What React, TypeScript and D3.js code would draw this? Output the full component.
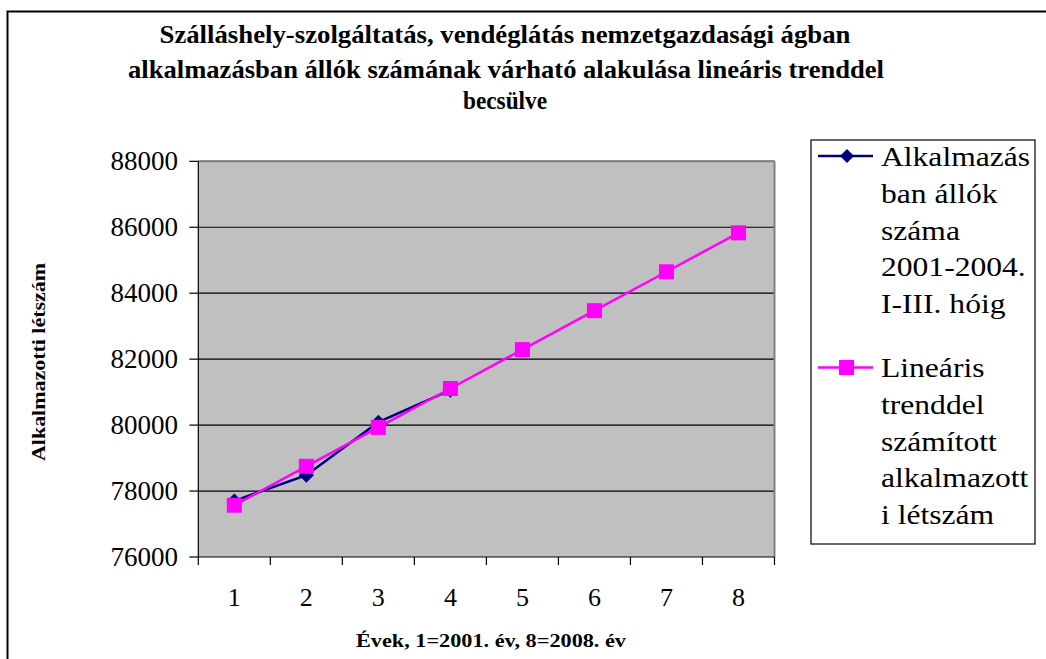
import React from "react";
import * as d3 from "d3";

const years = [1, 2, 3, 4, 5, 6, 7, 8];
const actualYears = [1, 2, 3, 4];
const actualValues = [77700, 78480, 80090, 81060];
const trendValues = [77570, 78750, 79930, 81110, 82290, 83470, 84650, 85830];
const yTicks = [76000, 78000, 80000, 82000, 84000, 86000, 88000];
const titleLines = [
  "Szálláshely-szolgáltatás, vendéglátás nemzetgazdasági ágban",
  "alkalmazásban állók számának várható alakulása lineáris trenddel",
  "becsülve",
];
const legendActual = ["Alkalmazás", "ban állók", "száma", "2001-2004.", "I-III. hóig"];
const legendTrend = ["Lineáris", "trenddel", "számított", "alkalmazott", "i létszám"];
const yAxisTitle = "Alkalmazotti létszám";
const xAxisTitle = "Évek, 1=2001. év, 8=2008. év";

export default function App() {
  const W = 1046, H = 659;
  const left = 198.3, right = 774.5, top = 161.3, bottom = 557;
  const x = d3.scaleBand<number>().domain(years).range([left, right]).padding(0);
  const cx = (d: number) => (x(d) as number) + x.bandwidth() / 2;
  const y = d3.scaleLinear().domain([76000, 88000]).range([bottom, top]);
  const font = "'Liberation Serif', 'Times New Roman', serif";

  const actualLine = d3.line<number>().x((_, i) => cx(actualYears[i])).y((d) => y(d))(actualValues) as string;
  const trendLine = d3.line<number>().x((_, i) => cx(years[i])).y((d) => y(d))(trendValues) as string;

  const titleWidths = [691, 756, 84];
  const titleCenters = [505, 506, 505];
  const titleBase = [43, 78, 109];

  const diamond = (px: number, py: number, r: number) =>
    `M${px},${py - r}L${px + r},${py}L${px},${py + r}L${px - r},${py}Z`;

  const legendX = 881;
  const lineH = 36.8;

  return (
    <svg width={W} height={H} style={{ position: "absolute", left: 0, top: 0, background: "#fff" }} fontFamily={font}>
      <rect x={0} y={0} width={W} height={H} fill="#fff" />
      {/* outer chart border */}
      <rect x={7.5} y={11.5} width={W + 20} height={H + 20} fill="none" stroke="#000" strokeWidth={2} />
      {/* title */}
      {titleLines.map((t, i) => (
        <text key={i} x={titleCenters[i]} y={titleBase[i]} textAnchor="middle" fontWeight="bold" fontSize={25}
          textLength={titleWidths[i]} lengthAdjust="spacingAndGlyphs">{t}</text>
      ))}
      {/* plot area */}
      <rect x={left} y={top} width={right - left} height={bottom - top} fill="#C0C0C0" />
      {yTicks.slice(1).map((t) => (
        <line key={t} x1={left} x2={right} y1={y(t)} y2={y(t)} stroke="#000" strokeWidth={1.2} />
      ))}
      <line x1={left} x2={right} y1={top} y2={top} stroke="#808080" strokeWidth={2} />
      <line x1={right} x2={right} y1={top} y2={bottom} stroke="#808080" strokeWidth={2} />
      {/* axes */}
      <line x1={left} x2={left} y1={top} y2={bottom} stroke="#000" strokeWidth={1.2} />
      <line x1={left} x2={right} y1={bottom} y2={bottom} stroke="#000" strokeWidth={1.2} />
      {yTicks.map((t) => (
        <g key={t}>
          <line x1={left - 9} x2={left} y1={y(t)} y2={y(t)} stroke="#000" strokeWidth={1.2} />
          <text x={178} y={y(t) + 9} textAnchor="end" fontSize={27}>{t}</text>
        </g>
      ))}
      {[...years, 9].map((d, i) => {
        const xx = left + i * x.bandwidth();
        return <line key={d} x1={xx} x2={xx} y1={bottom} y2={bottom + 8} stroke="#000" strokeWidth={1.2} />;
      })}
      {years.map((d) => (
        <text key={d} x={cx(d)} y={606} textAnchor="middle" fontSize={26}>{d}</text>
      ))}
      {/* axis titles */}
      <text transform="translate(45,362) rotate(-90)" textAnchor="middle" fontWeight="bold" fontSize={18}
        textLength={198} lengthAdjust="spacingAndGlyphs">{yAxisTitle}</text>
      <text x={491} y={647} textAnchor="middle" fontWeight="bold" fontSize={18}
        textLength={270} lengthAdjust="spacingAndGlyphs">{xAxisTitle}</text>
      {/* series */}
      <path d={actualLine} fill="none" stroke="#000080" strokeWidth={2.5} />
      {actualValues.map((v, i) => (
        <path key={i} d={diamond(cx(actualYears[i]), y(v), 7.5)} fill="#000080" />
      ))}
      <path d={trendLine} fill="none" stroke="#FF00FF" strokeWidth={2.5} />
      {trendValues.map((v, i) => (
        <rect key={i} x={cx(years[i]) - 7.5} y={y(v) - 7.5} width={15} height={15} fill="#FF00FF" />
      ))}
      {/* legend */}
      <rect x={811} y={140} width={224} height={404} fill="#fff" stroke="#000" strokeWidth={1.2} />
      <line x1={818} x2={873} y1={156} y2={156} stroke="#000080" strokeWidth={2.5} />
      <path d={diamond(847, 156, 7)} fill="#000080" />
      {legendActual.map((t, i) => (
        <text key={i} transform={`translate(${legendX},${166 + i * lineH}) scale(1.17,1)`} fontSize={27}>{t}</text>
      ))}
      <line x1={818} x2={873} y1={367.5} y2={367.5} stroke="#FF00FF" strokeWidth={2.5} />
      <rect x={839} y={360} width={15} height={15} fill="#FF00FF" />
      {legendTrend.map((t, i) => (
        <text key={i} transform={`translate(${legendX},${377 + i * lineH}) scale(1.17,1)`} fontSize={27}>{t}</text>
      ))}
    </svg>
  );
}
